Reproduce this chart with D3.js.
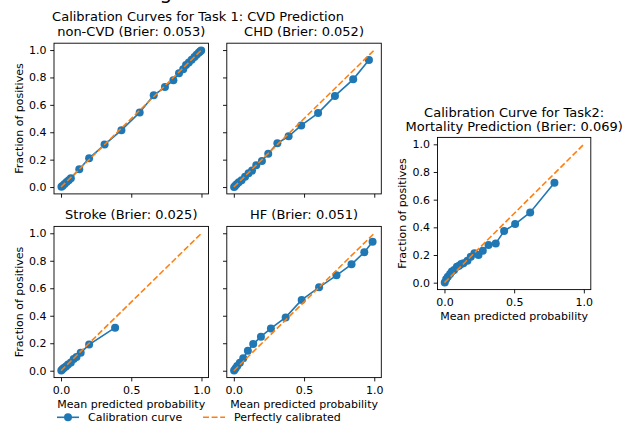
<!DOCTYPE html>
<html>
<head>
<meta charset="utf-8">
<script src="https://cdn.jsdelivr.net/npm/d3@7"></script>
<style>
  body { margin: 0; background: #fff; }
  svg { display: block; }
  text { font-family: "DejaVu Sans", sans-serif; fill: #000; }
</style>
</head>
<body>
<svg width="628" height="424"></svg>
<script>
// calibration curves (mean predicted prob, fraction of positives)
var nonCvdX = [0.003, 0.012, 0.025, 0.04, 0.055, 0.07, 0.13, 0.2, 0.31, 0.43, 0.56, 0.66, 0.74, 0.8, 0.84, 0.87, 0.89, 0.91, 0.93, 0.95, 0.965, 0.98, 0.99, 0.998];
var nonCvdY = [0.002, 0.01, 0.022, 0.036, 0.05, 0.065, 0.13, 0.21, 0.31, 0.415, 0.545, 0.67, 0.73, 0.78, 0.83, 0.86, 0.89, 0.91, 0.93, 0.95, 0.965, 0.98, 0.99, 0.997];

var chdX = [0.002, 0.01, 0.02, 0.035, 0.055, 0.08, 0.105, 0.13, 0.16, 0.2, 0.245, 0.31, 0.39, 0.48, 0.6, 0.72, 0.85, 0.962];
var chdY = [0.001, 0.01, 0.02, 0.035, 0.05, 0.075, 0.1, 0.12, 0.16, 0.19, 0.243, 0.32, 0.37, 0.45, 0.54, 0.665, 0.786, 0.927];

var strokeX = [0.002, 0.01, 0.02, 0.035, 0.05, 0.07, 0.09, 0.11, 0.14, 0.2, 0.385];
var strokeY = [0.001, 0.01, 0.02, 0.03, 0.045, 0.06, 0.085, 0.1, 0.13, 0.19, 0.313];

var hfX = [0.002, 0.012, 0.024, 0.043, 0.067, 0.1, 0.138, 0.193, 0.264, 0.369, 0.483, 0.607, 0.731, 0.838, 0.929, 0.988];
var hfY = [0.002, 0.017, 0.034, 0.058, 0.09, 0.146, 0.194, 0.248, 0.308, 0.388, 0.515, 0.607, 0.694, 0.774, 0.862, 0.939];

var mortX = [0.002, 0.012, 0.024, 0.04, 0.053, 0.069, 0.089, 0.105, 0.12, 0.136, 0.165, 0.189, 0.215, 0.244, 0.275, 0.316, 0.368, 0.428, 0.507, 0.615, 0.789];
var mortY = [0.002, 0.024, 0.043, 0.062, 0.08, 0.092, 0.116, 0.123, 0.135, 0.14, 0.159, 0.188, 0.212, 0.2, 0.231, 0.272, 0.284, 0.373, 0.424, 0.508, 0.723];

var perfect = [0, 1];
var yTicks = [0, 0.2, 0.4, 0.6, 0.8, 1.0];
var xTicks = [0, 0.5, 1.0];

var titles = ["non-CVD (Brier: 0.053)", "CHD (Brier: 0.052)", "Stroke (Brier: 0.025)", "HF (Brier: 0.051)",
              ["Calibration Curve for Task2:", "Mortality Prediction (Brier: 0.069)"]];
var supTitle = "Calibration Curves for Task 1: CVD Prediction";
var xLabel = "Mean predicted probability";
var yLabel = "Fraction of positives";
var legendLabels = ["Calibration curve", "Perfectly calibrated"];

var blue = "#1f77b4", orange = "#ff7f0e";
var svg = d3.select("svg");

// layout of each axes box
var panels = [
  {xs: nonCvdX, ys: nonCvdY, title: titles[0], l: 54,    r: 208.5, t: 43.2,  b: 193.9, yLab: true,  xLab: false},
  {xs: chdX,    ys: chdY,    title: titles[1], l: 226.8, r: 381.3, t: 43.2,  b: 193.9, yLab: false, xLab: false},
  {xs: strokeX, ys: strokeY, title: titles[2], l: 54,    r: 208.5, t: 226.4, b: 377.6, yLab: true,  xLab: true},
  {xs: hfX,     ys: hfY,     title: titles[3], l: 226.8, r: 381.3, t: 226.4, b: 377.6, yLab: false, xLab: true},
  {xs: mortX,   ys: mortY,   title: titles[4], l: 437.5, r: 590.8, t: 137.4, b: 289.6, yLab: true,  xLab: true}
];

panels.forEach(function(p) {
  var x = d3.scaleLinear().domain([-0.05, 1.05]).range([p.l, p.r]);
  var y = d3.scaleLinear().domain([-0.05, 1.05]).range([p.b, p.t]);
  var g = svg.append("g");

  var xAxis = d3.axisBottom(x).tickValues(xTicks).tickSize(3.8).tickSizeOuter(0).tickPadding(4.5)
    .tickFormat(p.xLab ? d3.format(".1f") : "");
  var yAxis = d3.axisLeft(y).tickValues(yTicks).tickSize(3.8).tickSizeOuter(0).tickPadding(3.8)
    .tickFormat(p.yLab ? d3.format(".1f") : "");

  g.append("g").attr("transform", "translate(0," + p.b + ")").call(xAxis);
  g.append("g").attr("transform", "translate(" + p.l + ",0)").call(yAxis);
  g.selectAll(".domain").remove();
  g.selectAll(".tick line").attr("stroke", "#000").attr("stroke-width", 0.9);
  g.selectAll(".tick text").attr("font-size", 11).attr("font-family", "DejaVu Sans").attr("fill", "#000");

  var pts = p.xs.map(function(v, i) { return [v, p.ys[i]]; });
  var line = d3.line().x(function(d) { return x(d[0]); }).y(function(d) { return y(d[1]); });

  g.append("path").datum(pts).attr("d", line)
    .attr("fill", "none").attr("stroke", blue).attr("stroke-width", 1.6);
  g.selectAll("circle").data(pts).enter().append("circle")
    .attr("cx", function(d) { return x(d[0]); })
    .attr("cy", function(d) { return y(d[1]); })
    .attr("r", 4).attr("fill", blue);

  g.append("path").datum(perfect.map(function(v) { return [v, v]; })).attr("d", line)
    .attr("fill", "none").attr("stroke", orange).attr("stroke-width", 1.6)
    .attr("stroke-dasharray", "6,2.6");

  g.append("rect").attr("x", p.l).attr("y", p.t)
    .attr("width", p.r - p.l).attr("height", p.b - p.t)
    .attr("fill", "none").attr("stroke", "#000").attr("stroke-width", 0.9);

  var cx = (p.l + p.r) / 2;
  if (Array.isArray(p.title)) {
    p.title.forEach(function(s, i) {
      g.append("text").attr("x", cx).attr("y", p.t - 20.5 + i * 14)
        .attr("text-anchor", "middle").attr("font-size", 13).text(s);
    });
  } else {
    g.append("text").attr("x", cx).attr("y", p.t - 7.5)
      .attr("text-anchor", "middle").attr("font-size", 13).text(p.title);
  }

  if (p.xLab) {
    g.append("text").attr("x", cx).attr("y", p.b + 30)
      .attr("text-anchor", "middle").attr("font-size", 11).text(xLabel);
  }
  if (p.yLab) {
    var ty = (p.t + p.b) / 2, tx = p.l - 31.5;
    g.append("text").attr("transform", "translate(" + tx + "," + ty + ") rotate(-90)")
      .attr("text-anchor", "middle").attr("font-size", 11).text(yLabel);
  }
});

// figure-level title over the four Task 1 panels
svg.append("text").attr("x", 198).attr("y", 21)
  .attr("text-anchor", "middle").attr("font-size", 13).text(supTitle);

// clipped tail of a larger heading above the frame (cut off in the reference too)
svg.append("text").attr("x", 159.5).attr("y", -1.5).attr("font-size", 20).text("g");

// legend
var lg = svg.append("g");
lg.append("line").attr("x1", 57).attr("x2", 79).attr("y1", 417.3).attr("y2", 417.3)
  .attr("stroke", blue).attr("stroke-width", 1.6);
lg.append("circle").attr("cx", 68).attr("cy", 417.3).attr("r", 4).attr("fill", blue);
lg.append("text").attr("x", 88).attr("y", 421).attr("font-size", 11).text(legendLabels[0]);
lg.append("line").attr("x1", 203).attr("x2", 225).attr("y1", 417.3).attr("y2", 417.3)
  .attr("stroke", orange).attr("stroke-width", 1.6).attr("stroke-dasharray", "6,2.6");
lg.append("text").attr("x", 234).attr("y", 421).attr("font-size", 11).text(legendLabels[1]);
</script>
</body>
</html>
